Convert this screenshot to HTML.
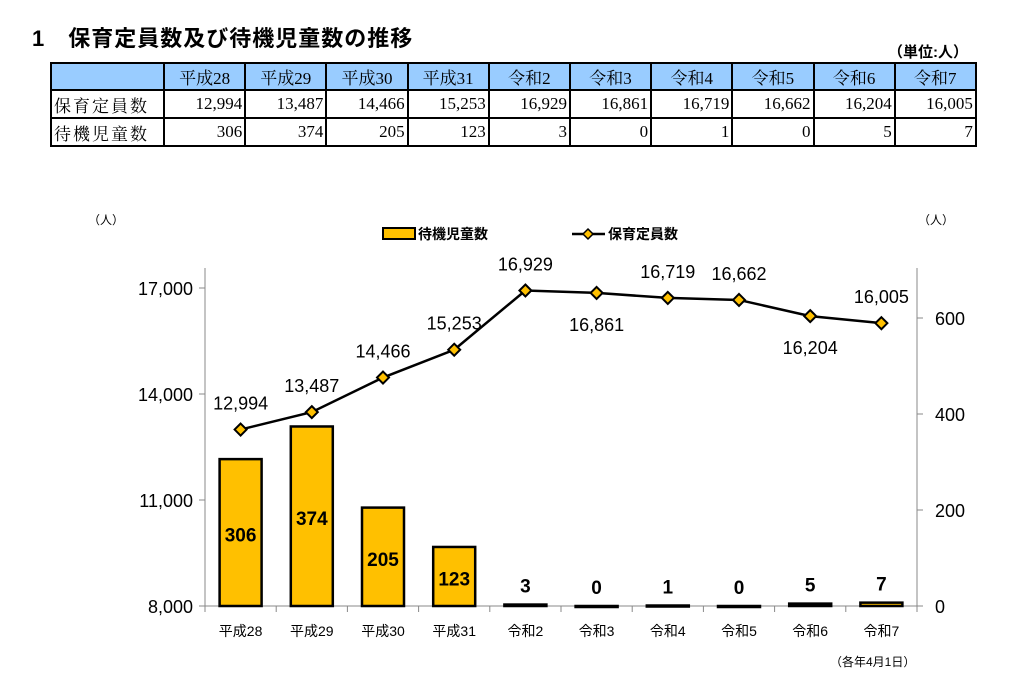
<!DOCTYPE html>
<html><head><meta charset="utf-8">
<style>
body{margin:0;background:#fff;width:1015px;height:681px;overflow:hidden;position:relative;font-family:"Liberation Sans","Noto Sans CJK JP",sans-serif;}
#title{position:absolute;left:32px;top:21px;font-size:22px;font-weight:bold;letter-spacing:1px;}
#unit{position:absolute;left:888px;top:41px;font-size:15px;font-weight:bold;}
table{position:absolute;left:50px;top:62px;border-collapse:collapse;table-layout:fixed;width:925px;font-family:"Liberation Serif","Noto Serif CJK SC",serif;font-size:17px;}
td{border:2px solid #000;padding:0 2px;text-align:right;height:26px;overflow:hidden;white-space:nowrap;}
tr.h td{background:#99ccff;text-align:center;height:21px;}
td.l{text-align:left;letter-spacing:2px;}
</style></head><body>
<div id="title">1　保育定員数及び待機児童数の推移</div>
<div id="unit">（単位:人）</div>
<table>
<colgroup><col style="width:113px"><col span="10" style="width:81.2px"></colgroup>
<tr class="h"><td class="l"></td><td>平成28</td><td>平成29</td><td>平成30</td><td>平成31</td><td>令和2</td><td>令和3</td><td>令和4</td><td>令和5</td><td>令和6</td><td>令和7</td></tr>
<tr><td class="l">保育定員数</td><td>12,994</td><td>13,487</td><td>14,466</td><td>15,253</td><td>16,929</td><td>16,861</td><td>16,719</td><td>16,662</td><td>16,204</td><td>16,005</td></tr>
<tr><td class="l">待機児童数</td><td>306</td><td>374</td><td>205</td><td>123</td><td>3</td><td>0</td><td>1</td><td>0</td><td>5</td><td>7</td></tr>
</table>
<svg id="chart" width="1015" height="681" style="position:absolute;left:0;top:0"></svg>
<script>
const categories=["平成28","平成29","平成30","平成31","令和2","令和3","令和4","令和5","令和6","令和7"];
const capacity=[12994,13487,14466,15253,16929,16861,16719,16662,16204,16005];
const waiting=[306,374,205,123,3,0,1,0,5,7];
const leftTicks=[8000,11000,14000,17000];
const rightTicks=[0,200,400,600];
const labelOffsets=[-1,-1,-1,-1,-1,1,-1,-1,1,-1];
const svg=document.getElementById('chart');const NS='http://www.w3.org/2000/svg';
const x0=205,x1=917,y0=606;
const yL=v=>y0-(v-8000)*318/9000;
const yR=v=>y0-v*0.48;
const cw=(x1-x0)/categories.length;
const xc=i=>x0+cw*(i+0.5);
function mk(t,a,txt){const e=document.createElementNS(NS,t);for(const k in a)e.setAttribute(k,a[k]);if(txt!==undefined)e.textContent=txt;svg.appendChild(e);return e;}
const F='"Liberation Sans","Noto Sans CJK JP",sans-serif';
let e;
e=mk('line',{x1:x0,y1:268,x2:x0,y2:y0,stroke:'#888'});
e=mk('line',{x1:x1,y1:268,x2:x1,y2:y0,stroke:'#888'});
e=mk('line',{x1:x0,y1:y0,x2:x1,y2:y0,stroke:'#888'});
leftTicks.forEach(v=>{mk('line',{x1:x0-6,y1:yL(v),x2:x0,y2:yL(v),stroke:'#888'});
e=mk('text',{x:x0-12,y:yL(v)+7,'text-anchor':'end','font-size':18,'font-family':F},v.toLocaleString('en-US'));
});
rightTicks.forEach(v=>{mk('line',{x1:x1,y1:yR(v),x2:x1+6,y2:yR(v),stroke:'#888'});
e=mk('text',{x:x1+18,y:yR(v)+7,'font-size':18,'font-family':F},String(v));
});
for(let i=0;i<=categories.length;i++)mk('line',{x1:x0+cw*i,y1:y0,x2:x0+cw*i,y2:y0+6,stroke:'#888'});
categories.forEach((c,i)=>{
e=mk('text',{x:xc(i),y:636,'text-anchor':'middle','font-size':14,'font-family':F},c);

const v=waiting[i],top=yR(v);
e=mk('rect',{x:xc(i)-21,y:top,width:42,height:Math.max(y0-top,1),fill:'#ffc000',stroke:'#000','stroke-width':2.5});

const ly=v>50?(top+y0)/2+9:top-12;
e=mk('text',{x:xc(i),y:ly,'text-anchor':'middle','font-size':19,'font-weight':'bold','font-family':F},String(v));

});
e=mk('polyline',{points:capacity.map((v,i)=>xc(i)+','+yL(v)).join(' '),fill:'none',stroke:'#000','stroke-width':2.5});

capacity.forEach((v,i)=>{const x=xc(i),y=yL(v);
e=mk('polygon',{points:`${x},${y-6} ${x+6},${y} ${x},${y+6} ${x-6},${y}`,fill:'#ffc000',stroke:'#000','stroke-width':2});

e=mk('text',{x:x,y:labelOffsets[i]<0?y-20:y+38,'text-anchor':'middle','font-size':18,'font-family':F},v.toLocaleString('en-US'));
});
e=mk('text',{x:88,y:224,'font-size':12,'font-family':F},'（人）');
e=mk('text',{x:918,y:224,'font-size':12,'font-family':F},'（人）');
e=mk('text',{x:830,y:666,'font-size':12,'font-family':F},'（各年4月1日）');
e=mk('rect',{x:383,y:228,width:32,height:11,fill:'#ffc000',stroke:'#000','stroke-width':2});
e=mk('text',{x:418,y:239,'font-size':14,'font-weight':'bold','font-family':F},'待機児童数');
mk('line',{x1:572,y1:234,x2:605,y2:234,stroke:'#000','stroke-width':2.5});
e=mk('polygon',{points:'588,229 593,234 588,239 583,234',fill:'#ffc000',stroke:'#000','stroke-width':1.5});
e=mk('text',{x:608,y:239,'font-size':14,'font-weight':'bold','font-family':F},'保育定員数');
</script>
</body></html>
